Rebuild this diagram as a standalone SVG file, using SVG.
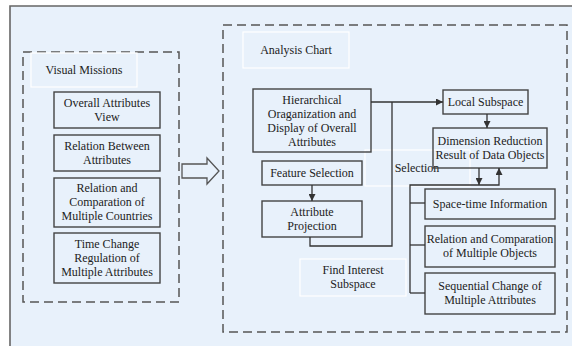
<svg xmlns="http://www.w3.org/2000/svg" width="572" height="346" viewBox="0 0 572 346">
<defs>
<style>
.bg{fill:#e8f1fb}
.frame{fill:none;stroke:#666;stroke-width:1.6}
.dash{fill:none;stroke:#555;stroke-width:1.5;stroke-dasharray:9 5}
.lbl{fill:none;stroke:#ffffff;stroke-width:1.2}
.box{fill:none;stroke:#444;stroke-width:1.4}
.t{font-family:"Liberation Serif","Times New Roman",serif;font-size:12px;fill:#222;text-anchor:middle}
.ln{fill:none;stroke:#333;stroke-width:1.3}
</style>
<marker id="ah" viewBox="0 0 10 10" refX="10" refY="5" markerWidth="7" markerHeight="7" markerUnits="userSpaceOnUse" orient="auto">
<path d="M0,0 L10,5 L0,10 z" fill="#333"/>
</marker>
</defs>
<rect x="0" y="0" width="572" height="346" fill="#ffffff"/>
<rect class="bg" x="10" y="6" width="562" height="340"/>
<path class="frame" d="M10,346 V6 H572"/>

<g id="visual-missions">
<rect class="dash" x="23" y="52" width="156" height="250"/>
<rect class="lbl" x="31" y="53" width="106" height="34"/>
<text class="t" x="84" y="74">Visual Missions</text>
</g>
<g id="overall-attributes-view">
<rect class="box" x="54" y="92" width="106" height="36"/>
<text class="t" x="107" y="107">Overall Attributes</text>
<text class="t" x="107" y="121">View</text>
</g>
<g id="relation-between-attributes">
<rect class="box" x="54" y="135" width="106" height="36"/>
<text class="t" x="107" y="150">Relation Between</text>
<text class="t" x="107" y="164">Attributes</text>
</g>
<g id="relation-countries">
<rect class="box" x="54" y="178" width="106" height="49"/>
<text class="t" x="107" y="192">Relation and</text>
<text class="t" x="107" y="206">Comparation of</text>
<text class="t" x="107" y="220">Multiple Countries</text>
</g>
<g id="time-change">
<rect class="box" x="54" y="233" width="106" height="50"/>
<text class="t" x="107" y="248">Time Change</text>
<text class="t" x="107" y="262">Regulation of</text>
<text class="t" x="107" y="276">Multiple Attributes</text>
</g>

<g id="hollow-arrow">
<path d="M182,164 H207 V158 L219,171 L207,184 V178 H182 Z" fill="none" stroke="#555" stroke-width="1.3"/>
</g>

<g id="analysis-chart">
<rect class="dash" x="223" y="25" width="344" height="307"/>
<rect class="lbl" x="243" y="32" width="106" height="36"/>
<text class="t" x="296" y="54">Analysis Chart</text>
</g>
<g id="selection-label">
<rect class="lbl" x="365" y="150" width="105" height="36"/>
<text class="t" x="417" y="172">Selection</text>
</g>
<g id="find-interest-subspace">
<rect class="lbl" x="300" y="259" width="106" height="37"/>
<text class="t" x="353" y="274">Find Interest</text>
<text class="t" x="353" y="288">Subspace</text>
</g>
<g id="hierarchical">
<rect class="box" x="253" y="89" width="118" height="63"/>
<text class="t" x="312" y="104">Hierarchical</text>
<text class="t" x="312" y="118">Oraganization and</text>
<text class="t" x="312" y="132">Display of Overall</text>
<text class="t" x="312" y="146">Attributes</text>
</g>
<g id="local-subspace">
<rect class="box" x="443" y="90" width="85" height="24"/>
<text class="t" x="485.5" y="106">Local Subspace</text>
</g>
<g id="dimension-reduction">
<rect class="box" x="433" y="128" width="114" height="40"/>
<text class="t" x="490" y="145">Dimension Reduction</text>
<text class="t" x="490" y="159">Result of Data Objects</text>
</g>
<g id="feature-selection">
<rect class="box" x="262" y="161" width="100" height="24"/>
<text class="t" x="312" y="177">Feature Selection</text>
</g>
<g id="attribute-projection">
<rect class="box" x="262" y="201" width="100" height="36"/>
<text class="t" x="312" y="216">Attribute</text>
<text class="t" x="312" y="230">Projection</text>
</g>
<g id="space-time">
<rect class="box" x="425" y="189" width="130" height="30"/>
<text class="t" x="490" y="208">Space-time Information</text>
</g>
<g id="relation-objects">
<rect class="box" x="425" y="226" width="130" height="41"/>
<text class="t" x="490" y="243">Relation and Comparation</text>
<text class="t" x="490" y="257">of Multiple Objects</text>
</g>
<g id="sequential-change">
<rect class="box" x="425" y="273" width="130" height="41"/>
<text class="t" x="490" y="290">Sequential Change of</text>
<text class="t" x="490" y="304">Multiple Attributes</text>
</g>

<g id="connectors">
<path class="ln" d="M371,102 H443" marker-end="url(#ah)"/>
<path class="ln" d="M310,237 V246 H392 V102"/>
<path class="ln" d="M487,114 V128" marker-end="url(#ah)"/>
<path class="ln" d="M312,185 V201" marker-end="url(#ah)"/>
<path class="ln" d="M479,168 V185" marker-end="url(#ah)"/>
<path class="ln" d="M410,293 V185 H499 V168" marker-end="url(#ah)"/>
<path class="ln" d="M410,203 H425"/>
<path class="ln" d="M410,245 H425"/>
<path class="ln" d="M410,293 H425"/>
</g>
</svg>
